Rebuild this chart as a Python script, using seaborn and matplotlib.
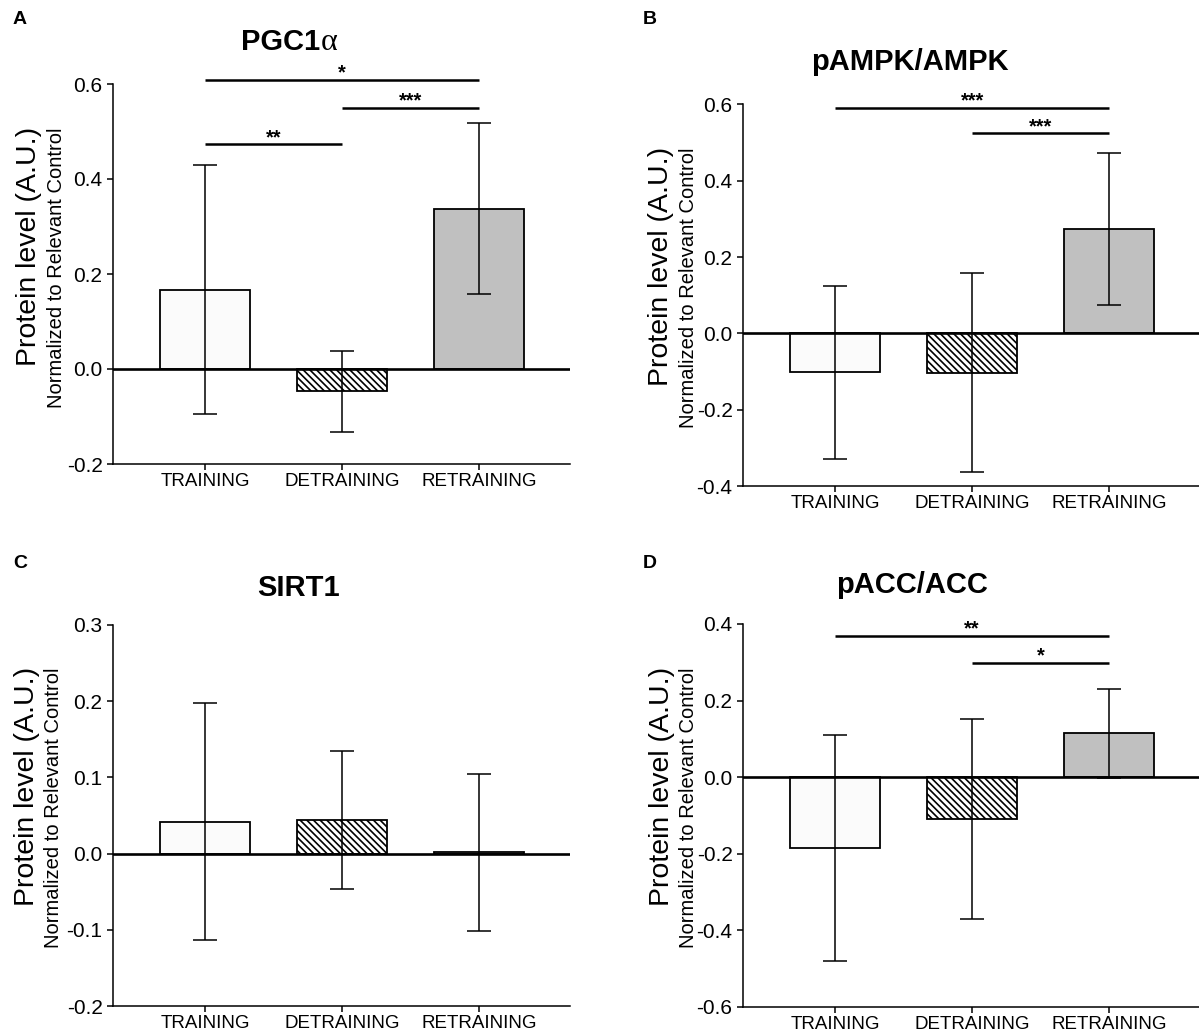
import matplotlib
matplotlib.use("Agg")
import matplotlib.pyplot as plt
from matplotlib.ticker import FormatStrFormatter
import seaborn as sns
import pandas as pd

sns.set_style("ticks")
plt.rcParams["font.family"] = ["Liberation Sans", "DejaVu Sans"]
plt.rcParams["axes.unicode_minus"] = False
plt.rcParams["hatch.linewidth"] = 1.2
plt.rcParams["hatch.color"] = "black"
plt.rcParams["text.color"] = "black"
plt.rcParams["axes.labelcolor"] = "black"

# ---- data -------------------------------------------------------------
groups = ["TRAINING", "DETRAINING", "RETRAINING"]

pgc1a_mean = [0.167, -0.047, 0.337]
pgc1a_err = [0.262, 0.085, 0.180]

pampk_mean = [-0.102, -0.103, 0.273]
pampk_err = [0.227, 0.261, 0.199]

sirt1_mean = [0.042, 0.044, 0.002]
sirt1_err = [0.156, 0.091, 0.103]

pacc_mean = [-0.184, -0.109, 0.115]
pacc_err = [0.295, 0.261, 0.116]

pgc1a_ticks = [-0.2, 0.0, 0.2, 0.4, 0.6]
pampk_ticks = [-0.4, -0.2, 0.0, 0.2, 0.4, 0.6]
sirt1_ticks = [-0.2, -0.1, 0.0, 0.1, 0.2, 0.3]
pacc_ticks = [-0.6, -0.4, -0.2, 0.0, 0.2, 0.4]

# significance brackets: (from group, to group, height, label)
pgc1a_sig = [(0, 2, 0.608, "*"), (1, 2, 0.549, "***"), (0, 1, 0.473, "**")]
pampk_sig = [(0, 2, 0.592, "***"), (1, 2, 0.524, "***")]
sirt1_sig = []
pacc_sig = [(0, 2, 0.369, "**"), (1, 2, 0.298, "*")]

bar_colors = ["#fbfbfb", "#ffffff", "#c0c0c0"]

W, H = 1199, 1035
fig = plt.figure(figsize=(W / 100, H / 100), dpi=100)


def px_rect(left, top, right, bottom):
    return [left / W, 1 - bottom / H, (right - left) / W, (bottom - top) / H]


panels = [
    dict(rect=px_rect(113, 84, 570, 464), mean=pgc1a_mean, err=pgc1a_err,
         ticks=pgc1a_ticks, sig=pgc1a_sig, letter="A", letter_xy=(13, 20),
         title_xy=(298, 42), ylab_x=(29, 57), ylab_top=127),
    dict(rect=px_rect(743, 104.5, 1200, 486), mean=pampk_mean, err=pampk_err,
         ticks=pampk_ticks, sig=pampk_sig, letter="B", letter_xy=(643, 20),
         title="pAMPK/AMPK", title_xy=(910, 62), ylab_x=(661, 688), ylab_top=147),
    dict(rect=px_rect(113, 625, 570, 1006), mean=sirt1_mean, err=sirt1_err,
         ticks=sirt1_ticks, sig=sirt1_sig, letter="C", letter_xy=(13, 563),
         title="SIRT1", title_xy=(298, 588), ylab_x=(27, 54), ylab_top=667),
    dict(rect=px_rect(743, 624, 1200, 1007), mean=pacc_mean, err=pacc_err,
         ticks=pacc_ticks, sig=pacc_sig, letter="D", letter_xy=(643, 563),
         title="pACC/ACC", title_xy=(912, 585), ylab_x=(662, 689), ylab_top=667),
]

for p in panels:
    ax = fig.add_axes(p["rect"])
    df = pd.DataFrame({"group": groups, "value": p["mean"]})
    sns.barplot(data=df, x="group", y="value", hue="group", order=groups,
                hue_order=groups, palette=bar_colors, width=0.66,
                errorbar=None, legend=False, edgecolor="black",
                linewidth=1.3, saturation=1, ax=ax, zorder=2)
    for patch, grp in zip(ax.patches, groups):
        if grp == "DETRAINING":
            patch.set_hatch("\\" * 5)
    ax.errorbar(range(len(groups)), p["mean"], yerr=p["err"], fmt="none",
                ecolor="black", elinewidth=1.1, capsize=8.5, capthick=1.1,
                zorder=4)
    ax.axhline(0, color="black", lw=1.9, zorder=3)

    ax.set_xlim(-0.672, 2.664)
    ax.set_ylim(p["ticks"][0], p["ticks"][-1])
    ax.set_yticks(p["ticks"])
    ax.yaxis.set_major_formatter(FormatStrFormatter("%.1f"))
    ax.set_xlabel("")
    ax.set_ylabel("")
    sns.despine(ax=ax)
    for s in ("left", "bottom"):
        ax.spines[s].set_linewidth(1.1)
        ax.spines[s].set_color("black")
    ax.tick_params(axis="y", length=4.5, width=1.1, pad=3, labelsize=15,
                   colors="black")
    ax.tick_params(axis="x", length=4.5, width=1.1, pad=2, labelsize=13.5,
                   colors="black")

    for g0, g1, yv, lab in p["sig"]:
        ax.plot([g0, g1], [yv, yv], color="black", lw=1.8, clip_on=False,
                solid_capstyle="butt", zorder=5)
        ax.annotate(lab, xy=((g0 + g1) / 2, yv), xytext=(0, 1),
                    textcoords="offset points", ha="center", va="baseline",
                    fontsize=14.5, fontweight="bold", annotation_clip=False)

    lx, ly = p["letter_xy"]
    fig.text(lx / W, 1 - ly / H, p["letter"], fontsize=14, fontweight="bold",
             ha="left", va="center")

    tx, ty = p["title_xy"]
    if p["letter"] == "A":
        fig.text((tx + 22) / W, 1 - ty / H, "PGC1", fontsize=21,
                 fontweight="bold", ha="right", va="center")
        fig.text((tx + 23) / W, 1 - ty / H, "α", fontsize=23,
                 family=["Liberation Serif", "DejaVu Serif"], ha="left",
                 va="center")
    else:
        fig.text(tx / W, 1 - ty / H, p["title"], fontsize=21,
                 fontweight="bold", ha="center", va="center")

    x1, x2 = p["ylab_x"]
    fig.text(x1 / W, 1 - p["ylab_top"] / H, "Protein level (A.U.)",
             fontsize=20.5, rotation=90, ha="center", va="top")
    fig.text(x2 / W, 1 - p["ylab_top"] / H, "Normalized to Relevant Control",
             fontsize=14.5, rotation=90, ha="center", va="top")

fig.savefig("out.png", dpi=100, facecolor="white")
